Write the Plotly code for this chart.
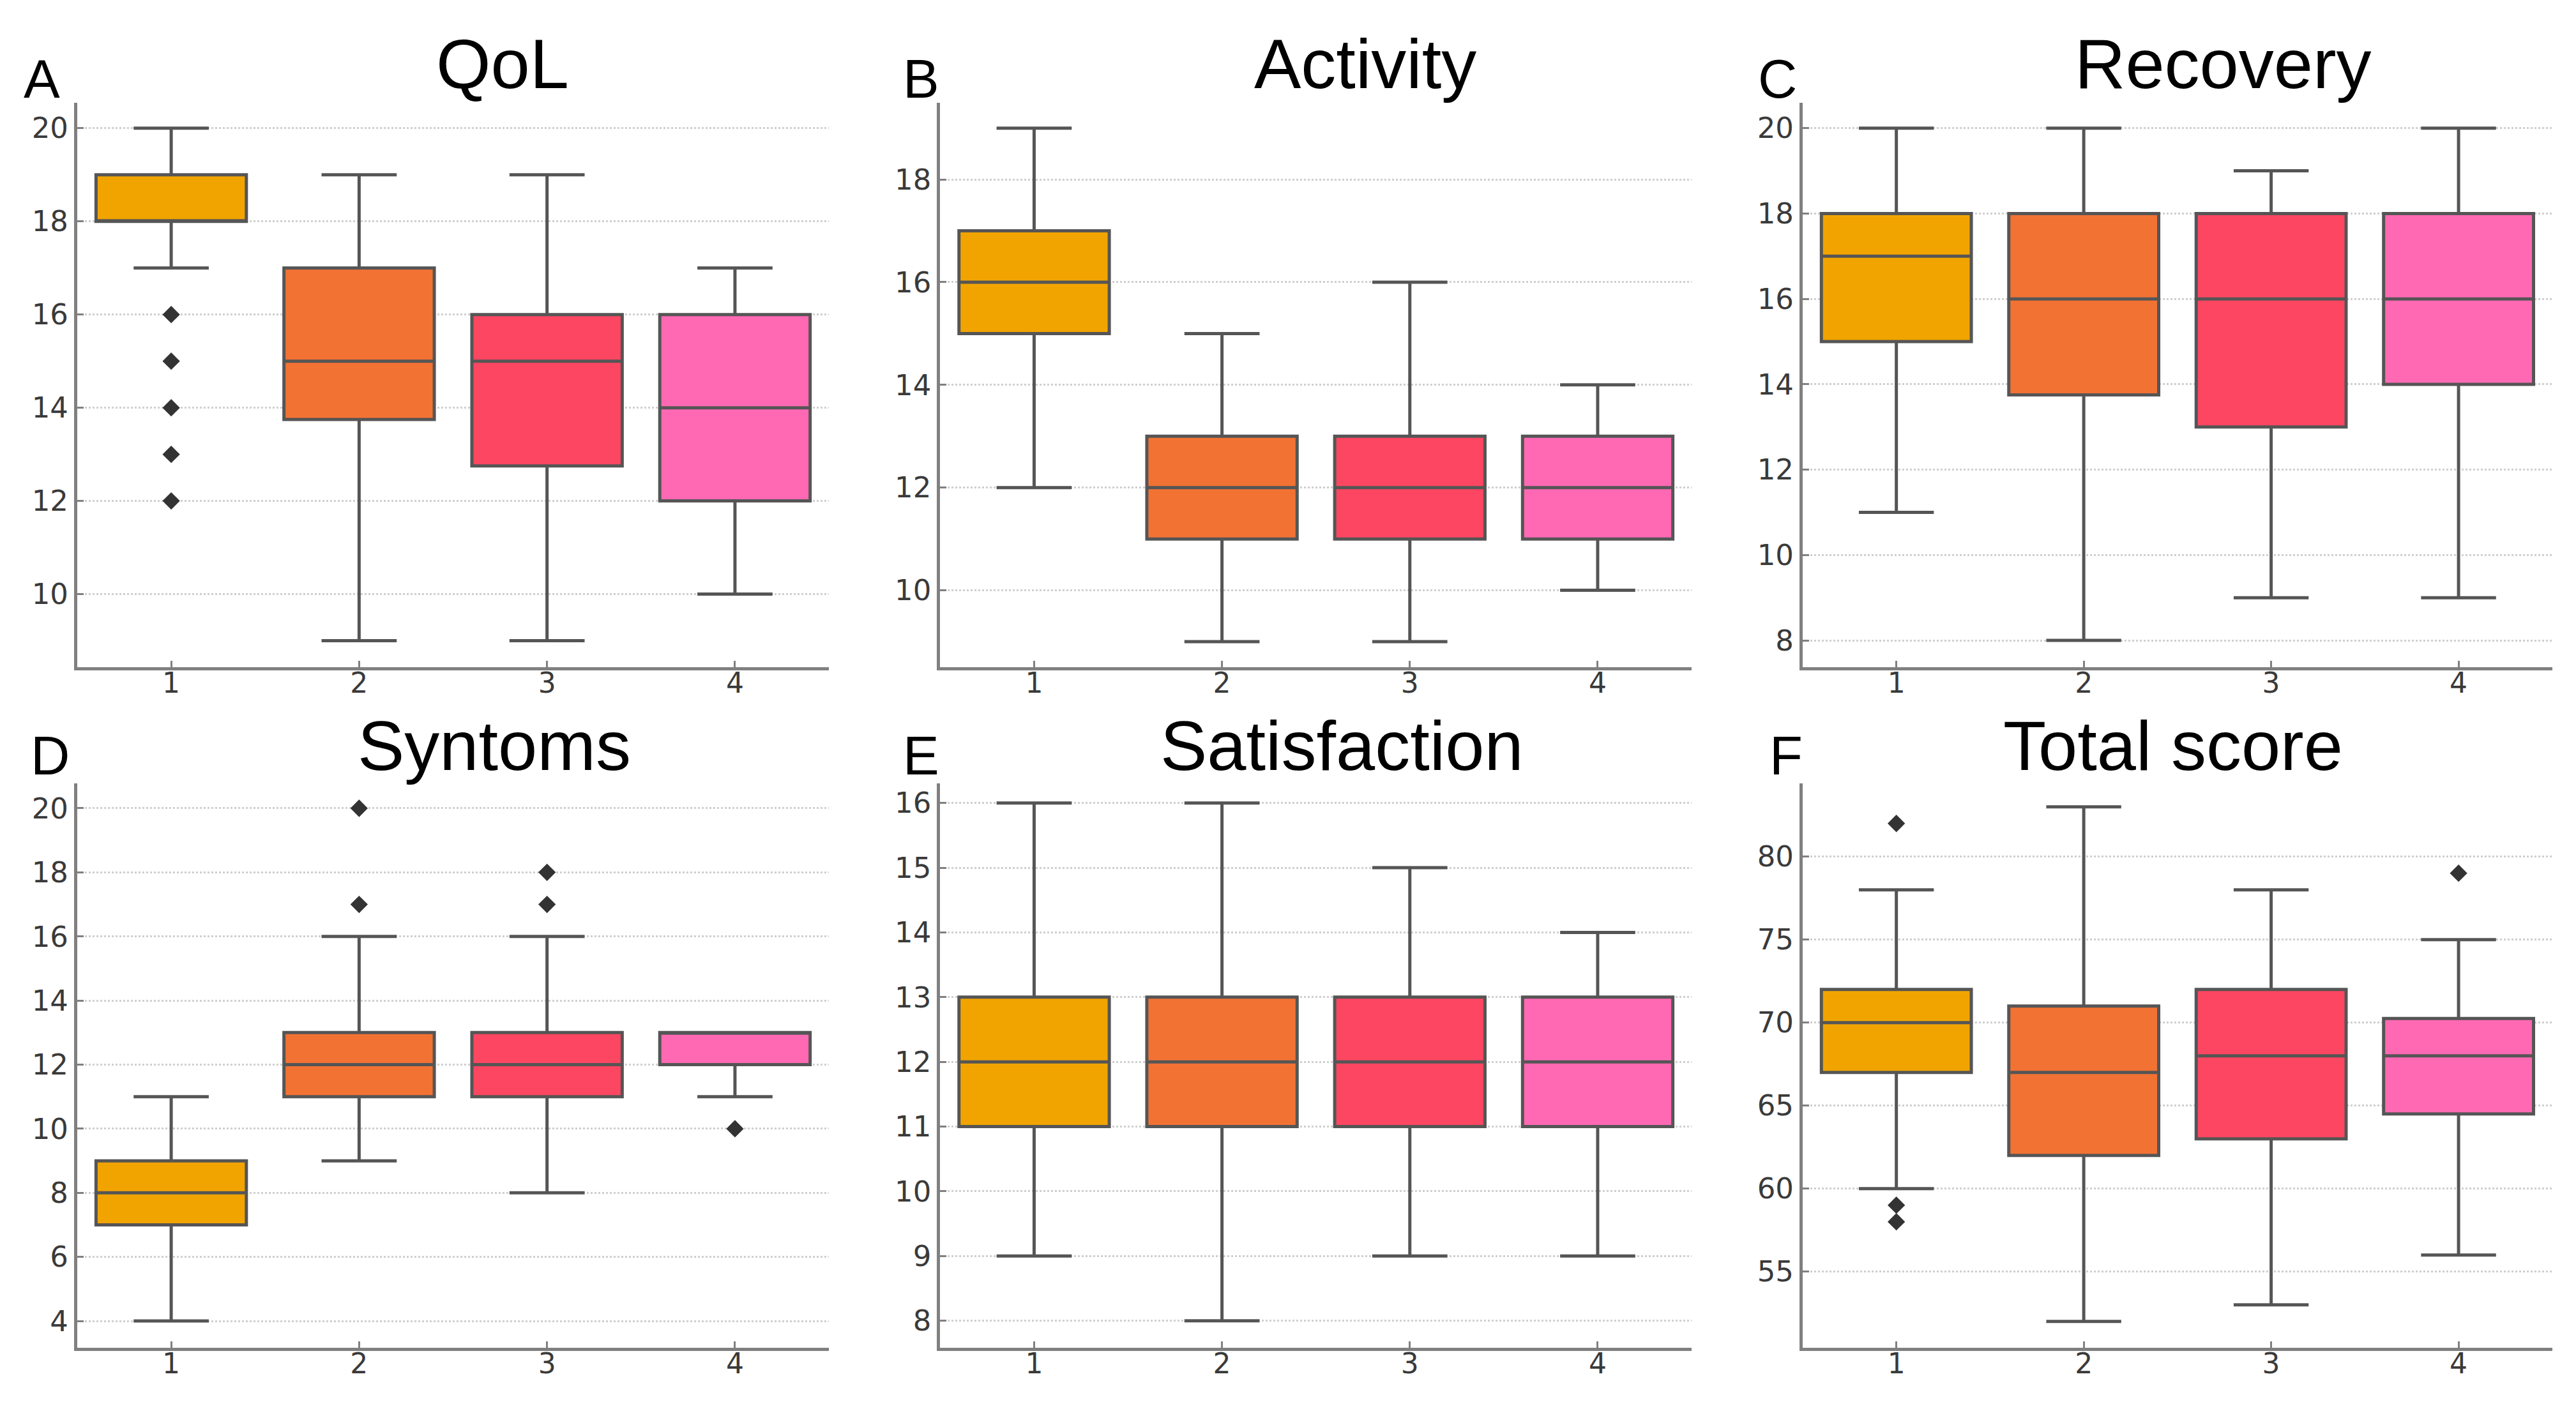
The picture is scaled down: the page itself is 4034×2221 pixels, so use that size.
import plotly.graph_objects as go
from plotly.subplots import make_subplots

# groups on the x axis
groups = [1, 2, 3, 4]
box_colors = ["#F1A400", "#F27234", "#FD4661", "#FF69B4"]

panel_titles = ["QoL", "Activity", "Recovery", "Syntoms", "Satisfaction", "Total score"]
panel_letters = ["A", "B", "C", "D", "E", "F"]

# box statistics, one list per panel (groups 1..4)
qol_low = [17, 9, 9, 10]
qol_q1 = [18, 13.75, 12.75, 12]
qol_med = [18, 15, 15, 14]
qol_q3 = [19, 17, 16, 16]
qol_high = [20, 19, 19, 17]
qol_out_x = [1, 1, 1, 1, 1]
qol_out_y = [16, 15, 14, 13, 12]

act_low = [12, 9, 9, 10]
act_q1 = [15, 11, 11, 11]
act_med = [16, 12, 12, 12]
act_q3 = [17, 13, 13, 13]
act_high = [19, 15, 16, 14]
act_out_x = []
act_out_y = []

rec_low = [11, 8, 9, 9]
rec_q1 = [15, 13.75, 13, 14]
rec_med = [17, 16, 16, 16]
rec_q3 = [18, 18, 18, 18]
rec_high = [20, 20, 19, 20]
rec_out_x = []
rec_out_y = []

sym_low = [4, 9, 8, 11]
sym_q1 = [7, 11, 11, 12]
sym_med = [8, 12, 12, 13]
sym_q3 = [9, 13, 13, 13]
sym_high = [11, 16, 16, 13]
sym_out_x = [2, 2, 3, 3, 4]
sym_out_y = [20, 17, 18, 17, 10]

sat_low = [9, 8, 9, 9]
sat_q1 = [11, 11, 11, 11]
sat_med = [12, 12, 12, 12]
sat_q3 = [13, 13, 13, 13]
sat_high = [16, 16, 15, 14]
sat_out_x = []
sat_out_y = []

tot_low = [60, 52, 53, 56]
tot_q1 = [67, 62, 63, 64.5]
tot_med = [70, 67, 68, 68]
tot_q3 = [72, 71, 72, 70.25]
tot_high = [78, 83, 78, 75]
tot_out_x = [1, 1, 1, 4]
tot_out_y = [82, 59, 58, 79]

panels = [
    (qol_low, qol_q1, qol_med, qol_q3, qol_high, qol_out_x, qol_out_y),
    (act_low, act_q1, act_med, act_q3, act_high, act_out_x, act_out_y),
    (rec_low, rec_q1, rec_med, rec_q3, rec_high, rec_out_x, rec_out_y),
    (sym_low, sym_q1, sym_med, sym_q3, sym_high, sym_out_x, sym_out_y),
    (sat_low, sat_q1, sat_med, sat_q3, sat_high, sat_out_x, sat_out_y),
    (tot_low, tot_q1, tot_med, tot_q3, tot_high, tot_out_x, tot_out_y),
]

y_ranges = [[8.43, 20.54], [8.5, 19.49], [7.37, 20.59],
            [3.16, 20.77], [7.58, 16.3], [50.4, 84.4]]
y_ticks = [[10, 12, 14, 16, 18, 20], [10, 12, 14, 16, 18], [8, 10, 12, 14, 16, 18, 20],
           [4, 6, 8, 10, 12, 14, 16, 18, 20], [8, 9, 10, 11, 12, 13, 14, 15, 16],
           [55, 60, 65, 70, 75, 80]]

x_domains = [[0.028, 0.3198], [0.363, 0.6547], [0.6978, 0.9888]]
y_domains = [[0.533, 0.931], [0.053, 0.451]]

fig = make_subplots(rows=2, cols=3)

for i, (low, q1, med, q3, high, ox, oy) in enumerate(panels):
    row = i // 3 + 1
    col = i % 3 + 1
    for g, color, lo, a, m, b, hi in zip(groups, box_colors, low, q1, med, q3, high):
        fig.add_trace(go.Box(
            x=[g], q1=[a], median=[m], q3=[b], lowerfence=[lo], upperfence=[hi],
            fillcolor=color, width=0.8, whiskerwidth=0.5,
            line=dict(color="#555555", width=5),
            boxpoints=False, showlegend=False, hoverinfo="skip",
        ), row=row, col=col)
    if ox:
        fig.add_trace(go.Scatter(
            x=ox, y=oy, mode="markers",
            marker=dict(symbol="diamond", size=21, color="#333333"),
            showlegend=False, hoverinfo="skip",
        ), row=row, col=col)

    fig.update_xaxes(
        domain=x_domains[col - 1], range=[0.5, 4.5],
        tickvals=groups, ticktext=[str(g) for g in groups],
        showgrid=False, zeroline=False,
        showline=True, linecolor="#808080", linewidth=5,
        ticks="inside", ticklen=10, tickwidth=3, tickcolor="#808080",
        ticklabelstandoff=-18,
        tickfont=dict(family="DejaVu Sans", size=44, color="#3a3a3a"),
        row=row, col=col,
    )
    fig.update_yaxes(
        domain=y_domains[row - 1], range=y_ranges[i], tickvals=y_ticks[i],
        showgrid=True, gridcolor="#cfcfcf", gridwidth=3, griddash="dot",
        zeroline=False, showline=True, linecolor="#808080", linewidth=5,
        ticks="inside", ticklen=10, tickwidth=3, tickcolor="#808080",
        tickfont=dict(family="DejaVu Sans", size=45, color="#3a3a3a"),
        row=row, col=col,
    )

# titles and panel letters
title_x = [0.193, 0.528, 0.861, 0.190, 0.519, 0.8417]
title_y = [0.930, 0.930, 0.930, 0.4495, 0.4495, 0.4495]
letter_x = [0.0067, 0.348, 0.680, 0.0093, 0.348, 0.6845]
letter_y = [0.9257, 0.9257, 0.9257, 0.4484, 0.4484, 0.4484]

annotations = []
for t, tx, ty in zip(panel_titles, title_x, title_y):
    annotations.append(dict(
        text=t, x=tx, y=ty, xref="paper", yref="paper",
        xanchor="center", yanchor="bottom", showarrow=False,
        font=dict(family="Liberation Sans, Arial", size=110, color="black"),
    ))
for l, lx, ly in zip(panel_letters, letter_x, letter_y):
    annotations.append(dict(
        text=l, x=lx, y=ly, xref="paper", yref="paper",
        xanchor="left", yanchor="bottom", showarrow=False,
        font=dict(family="Liberation Sans, Arial", size=85, color="black"),
    ))

fig.update_layout(
    width=4034, height=2221,
    margin=dict(l=0, r=0, t=0, b=0),
    plot_bgcolor="white", paper_bgcolor="white",
    annotations=annotations,
)

fig.write_html("out.html")
